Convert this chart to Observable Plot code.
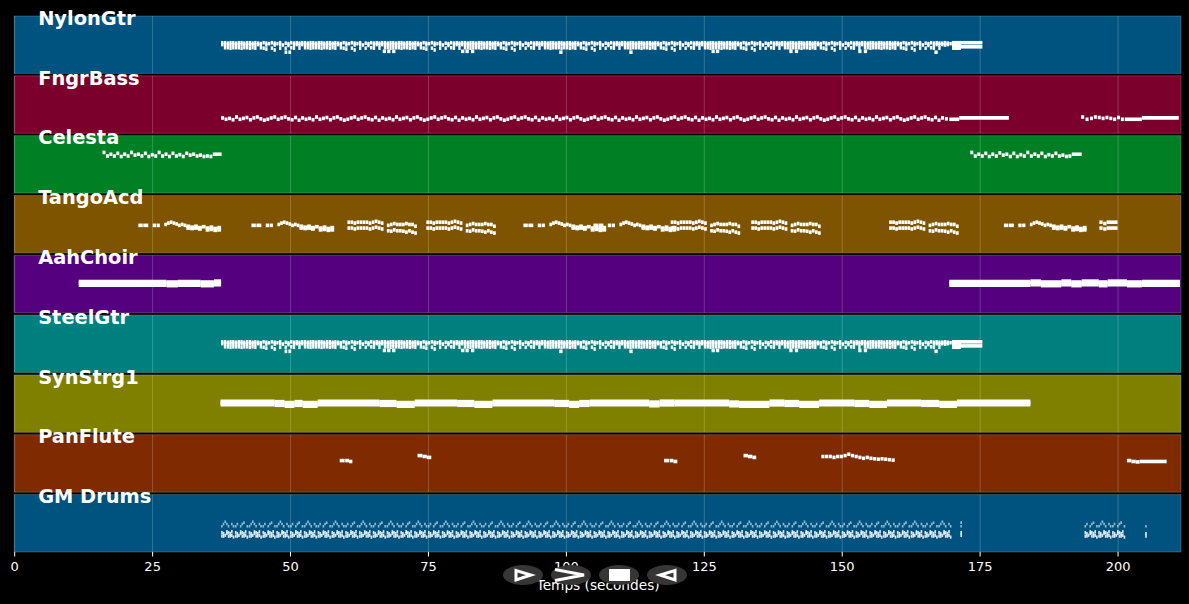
<!DOCTYPE html>
<html><head><meta charset="utf-8">
<script src="https://cdn.jsdelivr.net/npm/d3@7"></script>
<script src="https://cdn.jsdelivr.net/npm/@observablehq/plot@0.6"></script>
<style>
html,body{margin:0;padding:0;background:#000;overflow:hidden}
#wrap{position:relative;width:1189px;height:604px}
#controls{position:absolute;left:0;top:0;pointer-events:none;filter:blur(.4px)}
</style></head><body><div id="wrap"></div>
<script>
const trackNames = ["NylonGtr","FngrBass","Celesta","TangoAcd","AahChoir","SteelGtr","SynStrg1","PanFlute","GM Drums"];
const trackColors = ["#00527f","#7b002c","#007f25","#7f5400","#54007f","#007f7f","#7f7f00","#7f2a00","#00527f"];
const xTicks = [0,25,50,75,100,125,150,175,200];

// guitar loop (same in NylonGtr and SteelGtr)
const gtrStarts = [37.5,52,66.5,81,95.5,110,124.5,139,153.5];
const gtrStep = 0.5;
const gtrTop = [69,69,68,69,69,68,69,69,68,69,69,68,69,68,67,69,68,67,69,68,67,69,null,68,67,69,68,69,68];
const gtrMid = [65,65,65,64,65,65,64,65,65,64,65,65,64,65,65,null,64,null,null,64,null,65,64,null,63,null,64,65,64];
const gtrLow = [null,58,58,57,58,58,58,57,58,58,57,58,57,null,58,57,55,null,57,53,null,57,null,57,null,58,57,null,57];
const gtrDeep = [[49,.5,48],[49.7,.5,48],[66.8,.6,50],[67.6,.6,50],[68.5,.6,50],[81,.6,50],[81.8,.6,50],[82.8,.6,50],[98.8,.6,48],[111.5,.6,48],[126.4,.6,50],[127.2,.6,50],[140.5,.6,50],[141.5,.6,50],[153,.6,50],[154,.6,50],[166.8,.6,48]];
const gtrEnd = [[168,.45,68],[168.5,.45,69],[169,.45,68],[169.5,.45,67],[168,.45,65],[168.5,.45,64],[169,.45,65],[170,5.5,69],[170,5.5,60],[170,1.6,66],[170,1.6,63],[170,1.6,57]];

// bass
const bassStarts = [37.5,52,66.5,81,95.5,110,124.5,139,153.5];
const bassStep = 0.63;
const bassLine = [35,32,34,31,37,32,34,36,31,35,37,33,30,32,35,37,32,35,37,33,31,36,30];
const bassExtra = [[168,.55,35],[168.7,.55,33],[169.5,1.8,32],[171.3,9,35],[193.4,.55,37],[194.2,.55,32],[195,.55,34],[195.7,.55,37],[196.4,.55,36],[197.1,.55,34],[197.8,.55,36],[198.5,.55,34],[199.2,.55,32],[199.9,.55,36],[200.6,.55,32],[201.3,3.1,32],[204.4,6.7,35]];

// celesta
const celestaFirst = [91,83,87,83,89,82,87,83,91,85,87,83,89,82,86,83,91,83,87,82,89,83,86,82,89,85,87,83,85,82,83,82];
const celestaSecond = [91,83,87,83,89,82,87,83,90,85,87,82,89,82,86,83,91,83,87,83,89,82,86,83,89,83,85,82,83];
const celestaLong = [[36,1.6,87],[191.7,1.8,87]];

// tango accordion
const soloStarts = [22.5,43,92.3,105,179.4];
const soloNotes = [[0,.8,62],[.9,.9,62],[2.6,.6,62],[3.3,.6,62],[4.7,.5,64],[5.2,.5,67],[5.7,.5,69],[6.2,.5,67],[6.7,.5,65],[7.2,.5,62],[7.7,.5,64],[8.2,.5,62],[8.7,.7,60],[9.4,.7,58],[10.1,.7,60],[10.8,.7,57],[11.5,.7,59],[12.2,.7,56],[12.9,.7,58],[13.6,.7,55],[14.3,.7,57],[8.7,.7,56],[9.4,.7,55],[10.1,.7,56],[10.8,.7,54],[12.2,.7,52],[12.9,.7,53],[13.6,.7,51],[14.3,.7,52]];
const duetStarts = [60.4,74.7,119,133.6,158.6];
const duetStep = 0.55;
const duetHigh = [69,69,67,69,69,69,69,67,69,71,69,67,null,62,64,66,64,64,64,66,64,64,60];
const duetLow  = [56,56,54,56,56,56,56,54,56,58,56,54,null,50,49,52,50,50,49,47,50,47,45];
const duetLast = [[196.7,.6,69],[197.4,.6,66],[198,2,69],[196.7,.6,56],[197.4,.6,54],[198,2,56]];

// choir and strings: chord blocks [from, to, centre pitch]
const chordVoices = [-4,0,4];
const choirBlocks = [[11.7,27.6,66],[27.6,29.7,65],[29.7,33.8,66],[33.8,36.2,65],[36.2,37.5,67],[169.5,184.2,66],[184.2,186.1,67],[186.1,189.8,65],[189.8,191.6,67],[191.6,193.5,65],[193.5,196.6,67],[196.6,198.2,65],[198.2,201.7,67],[201.7,204.4,65],[204.4,211.3,66]];
const stringBlocks = [[37.4,47.2,66],[47.2,49,65],[49,50.8,63],[50.8,52.3,65],[52.3,55,63],[55,66.2,66],[66.2,69.3,65],[69.3,72.6,63],[72.6,80.3,66],[80.3,83.4,65],[83.4,86.7,63],[86.7,97.9,66],[97.9,100.6,65],[100.6,102.4,63],[102.4,104.3,65],[104.3,115.1,66],[115.1,117,64],[117,119.7,66],[119.7,129.6,66],[129.6,131.4,64],[131.4,136.9,63],[136.9,139.6,66],[139.6,142.3,65],[142.3,145.9,63],[145.9,152.3,66],[152.3,155,65],[155,158.2,63],[158.2,164.4,66],[164.4,167.7,65],[167.7,170.9,63],[170.9,184.2,66]];

// pan flute
const fluteNotes = [[59,.9,71],[60,.7,71],[60.7,.6,69],[73.1,.9,82],[74,.8,80],[74.8,.8,78],[117.8,.9,71],[118.8,.7,71],[119.5,.7,69],[132.2,.8,82],[133,.8,80],[133.8,.7,78],[201.7,.8,71],[202.5,.8,69],[203.3,.7,68],[204,4.9,69]];
const fluteRunStart = 146.3;
const fluteRunStep = 0.67;
const fluteRun = [80,80,80,78,80,80,82,85,82,80,78,76,78,76,75,74,75,74,73,72];

// drums
const drumStarts = [37.5,40,42.5,45,47.5,50,52.5,55,57.5,60,62.5,65,67.5,70,72.5,75,77.5,80,82.5,85,87.5,90,92.5,95,97.5,100,102.5,105,107.5,110,112.5,115,117.5,120,122.5,125,127.5,130,132.5,135,137.5,140,142.5,145,147.5,150,152.5,155,157.5,160,162.5,165,167.5,194,196.5,199];
const drumOffsets = [0,.3,.6,.9,1.2,1.5,1.8,2.1];
const drumHighA = [58,63,68,63,58,null,63,58];
const drumHighB = [58,63,null,58,63,66,null,58];
const drumLow = [36,42,38,42,36,42,38,34];
const drumLowSecond = [44,36,null,46,44,36,46,null];
const drumSingles = [[171.5,58],[171.5,66],[171.5,38],[171.5,44],[205,58],[205,42],[205,36]];

const notes = [];
const add = (track,t,len,p) => { if (p !== null) notes.push({track,t,end:t+len,p}); };
for (const track of ["NylonGtr","SteelGtr"]) {
  for (const s of gtrStarts) [gtrTop,gtrMid,gtrLow].forEach(v => v.forEach((p,i) => add(track,s+i*gtrStep,gtrStep*.85,p)));
  for (const [t,l,p] of [...gtrDeep,...gtrEnd]) add(track,t,l,p);
}
for (const s of bassStarts) bassLine.forEach((p,i) => add("FngrBass",s+i*bassStep,.55,p));
for (const [t,l,p] of bassExtra) add("FngrBass",t,l,p);
celestaFirst.forEach((p,i) => add("Celesta",16+i*.625,.55,p));
celestaSecond.forEach((p,i) => add("Celesta",173.3+i*.635,.55,p));
for (const [t,l,p] of celestaLong) add("Celesta",t,l,p);
for (const s of soloStarts) for (const [o,l,p] of soloNotes) add("TangoAcd",s+o,l,p);
for (const s of duetStarts) [duetHigh,duetLow].forEach(v => v.forEach((p,i) => add("TangoAcd",s+i*duetStep,.5,p)));
for (const [t,l,p] of duetLast) add("TangoAcd",t,l,p);
for (const [a,b,c] of choirBlocks) for (const v of chordVoices) add("AahChoir",a,b-a,c+v);
for (const [a,b,c] of stringBlocks) for (const v of chordVoices) add("SynStrg1",a,b-a,c+v);
for (const [t,l,p] of fluteNotes) add("PanFlute",t,l,p);
fluteRun.forEach((p,i) => add("PanFlute",fluteRunStart+i*fluteRunStep,.58,p));

const drumTop = [], drumBottom = [];
drumStarts.forEach((s,k) => drumOffsets.forEach((o,i) => {
  const high = (k % 2 ? drumHighB : drumHighA)[i];
  if (high !== null) drumTop.push({track:"GM Drums",t:s+o,end:s+o+.3,p:high});
  drumBottom.push({track:"GM Drums",t:s+o,end:s+o+.3,p:drumLow[i]});
  if (drumLowSecond[i] !== null) drumBottom.push({track:"GM Drums",t:s+o,end:s+o+.3,p:drumLowSecond[i]});
}));
for (const [t,p] of drumSingles) (p > 50 ? drumTop : drumBottom).push({track:"GM Drums",t,end:t+.3,p});

const chart = Plot.plot({
  width:1189, height:604,
  marginTop:16, marginBottom:52, marginLeft:14.2, marginRight:8,
  style:{background:"#000",color:"#fff",fontFamily:"'DejaVu Sans',sans-serif",overflow:"visible"},
  x:{domain:[0,211.5],label:null},
  y:{domain:[0,127],axis:null},
  fy:{domain:trackNames,axis:null,paddingInner:.04,paddingOuter:0,round:false},
  marks:[
    ...trackNames.map((name,i) => Plot.rect([name],{x1:0,x2:211.5,y1:0,y2:127,fy:d=>d,fill:trackColors[i],stroke:"#fff",strokeOpacity:.2,strokeWidth:1})),
    Plot.gridX(xTicks,{stroke:"#fff",strokeOpacity:.2,strokeWidth:1}),
    Plot.ruleY(notes,{x1:"t",x2:"end",y:"p",fy:"track",stroke:"#fff",strokeWidth:3.6}),
    Plot.ruleY(drumTop,{x1:"t",x2:"end",y:"p",fy:"track",stroke:"#cfe6f2",strokeOpacity:.7,strokeWidth:2.6}),
    Plot.ruleY(drumBottom,{x1:"t",x2:"end",y:"p",fy:"track",stroke:"#fff",strokeOpacity:.85,strokeWidth:3.2}),
    Plot.text(trackNames,{text:d=>d,fy:d=>d,x:4.25,y:127,dy:2,textAnchor:"start",lineAnchor:"middle",fill:"#fff",fontWeight:"bold",fontSize:19.4}),
    Plot.axisX(xTicks,{anchor:"bottom",stroke:"#fff",tickSize:4.5,tickPadding:5,fontSize:13,fill:"#fff",label:null,tickFormat:d=>String(d)}),
    Plot.axisX([],{anchor:"bottom",tickSize:0,fontSize:13.7,fill:"#fff",label:"Temps (secondes)",labelAnchor:"center",labelArrow:"none",labelOffset:37})
  ]
});
const wrap = document.getElementById("wrap");
wrap.appendChild(chart);
wrap.insertAdjacentHTML("beforeend",`<svg id="controls" width="1189" height="604" viewBox="0 0 1189 604">
<g fill="#363636"><ellipse cx="523" cy="575" rx="20" ry="10"/><ellipse cx="571" cy="575" rx="20" ry="10"/><ellipse cx="619" cy="575" rx="20" ry="10"/><ellipse cx="667" cy="575" rx="20" ry="10"/></g>
<path d="M516 570.5 L516 580 L531 575 Z" fill="none" stroke="#fff" stroke-width="3"/>
<path d="M555 569.5 L584 575 L555 580.5" fill="none" stroke="#fff" stroke-width="3.2"/>
<rect x="609" y="569" width="21" height="12" fill="#fff"/>
<path d="M675 570.5 L675 580 L660 575 Z" fill="none" stroke="#fff" stroke-width="3"/>
</svg>`);
</script></body></html>
